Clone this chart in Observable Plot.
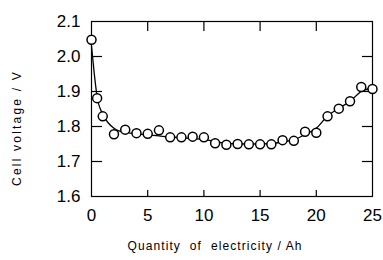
<!DOCTYPE html>
<html>
<head>
<meta charset="utf-8">
<script src="https://cdn.jsdelivr.net/npm/d3@7"></script>
<script src="https://cdn.jsdelivr.net/npm/@observablehq/plot@0.6"></script>
<style>
  html, body { margin: 0; padding: 0; background: #fff; }
  svg { font-family: "Liberation Sans", Arial, sans-serif; }
</style>
</head>
<body>
<div id="chart"></div>
<script>
// Measured points
const pointX = [0, 0.5, 1, 2, 3, 4, 5, 6, 7, 8, 9, 10, 11, 12, 13, 14, 15, 16, 17, 18, 19, 20, 21, 22, 23, 24, 25];
const pointY = [2.048, 1.881, 1.829, 1.778, 1.791, 1.781, 1.779, 1.789, 1.769, 1.769, 1.771, 1.769, 1.752, 1.748, 1.750, 1.749, 1.749, 1.749, 1.761, 1.759, 1.785, 1.782, 1.829, 1.851, 1.872, 1.913, 1.907];
// Fitted curve
const curveX = [0, 0.25, 0.5, 1, 1.5, 2, 2.5, 3, 4, 5, 6, 7, 8, 10, 12, 14, 16, 17, 18, 19, 20, 21, 22, 23, 24, 25];
const curveY = [2.03, 1.95, 1.885, 1.835, 1.81, 1.795, 1.787, 1.783, 1.779, 1.776, 1.773, 1.770, 1.768, 1.763, 1.752, 1.750, 1.751, 1.756, 1.762, 1.777, 1.795, 1.830, 1.852, 1.872, 1.900, 1.910];
// Axes
const xTicks = [0, 5, 10, 15, 20, 25];
const yTicks = [1.6, 1.7, 1.8, 1.9, 2.0, 2.1];
const xInnerTicks = [5, 10, 15, 20];
const yInnerTicks = [1.7, 1.8, 1.9, 2.0];
const xTitle = "Quantity  of  electricity / Ah";
const yTitle = "Cell voltage / V";

const points = pointX.map((x, i) => ({x, y: pointY[i]}));
const curve = curveX.map((x, i) => ({x, y: curveY[i]}));

const W = 383, H = 260;
const mL = 91, mR = 11, mT = 21, mB = 64;
const plotH = H - mT - mB, plotW = W - mL - mR;

const chart = Plot.plot({
  width: W,
  height: H,
  marginLeft: mL,
  marginRight: mR,
  marginTop: mT,
  marginBottom: mB,
  style: {fontFamily: '"Liberation Sans", Arial, sans-serif', background: "#fff", overflow: "visible"},
  x: {domain: [0, 25]},
  y: {domain: [1.6, 2.1]},
  marks: [
    // inward ticks
    Plot.tickX(xInnerTicks, {x: d => d, insetTop: plotH - 6, stroke: "#000", strokeWidth: 1.2}),
    Plot.tickX(xInnerTicks, {x: d => d, insetBottom: plotH - 10, stroke: "#000", strokeWidth: 1.2}),
    Plot.tickY(yInnerTicks, {y: d => d, insetRight: plotW - 11, stroke: "#000", strokeWidth: 1.2}),
    Plot.tickY(yInnerTicks, {y: d => d, insetLeft: plotW - 10, stroke: "#000", strokeWidth: 1.2}),
    Plot.frame({stroke: "#000", strokeWidth: 1.2}),
    Plot.axisX(xTicks, {tickSize: 0, tickPadding: 12, fontSize: 17, label: null, fill: "#000"}),
    Plot.axisY(yTicks, {tickSize: 0, tickPadding: 11, fontSize: 17, label: null, fill: "#000", tickFormat: d3.format(".1f")}),
    Plot.line(curve, {x: "x", y: "y", curve: "monotone-x", stroke: "#000", strokeWidth: 1.3}),
    Plot.dot(points, {x: "x", y: "y", r: 4.5, fill: "#fff", stroke: "#000", strokeWidth: 1.5}),
    Plot.text([xTitle], {frameAnchor: "bottom", dy: 53, dx: -17, fontSize: 12, fill: "#000", text: d => d, textAnchor: "middle"}),
    Plot.text([yTitle], {frameAnchor: "left", dx: -74, dy: 19, rotate: -90, fontSize: 12, fill: "#000", text: d => d, textAnchor: "middle"})
  ]
});
chart.querySelectorAll("text").forEach(t => {
  if (t.textContent === xTitle) t.style.letterSpacing = "1.1px";
  if (t.textContent === yTitle) t.style.letterSpacing = "2.2px";
});
document.getElementById("chart").appendChild(chart);
</script>
</body>
</html>
